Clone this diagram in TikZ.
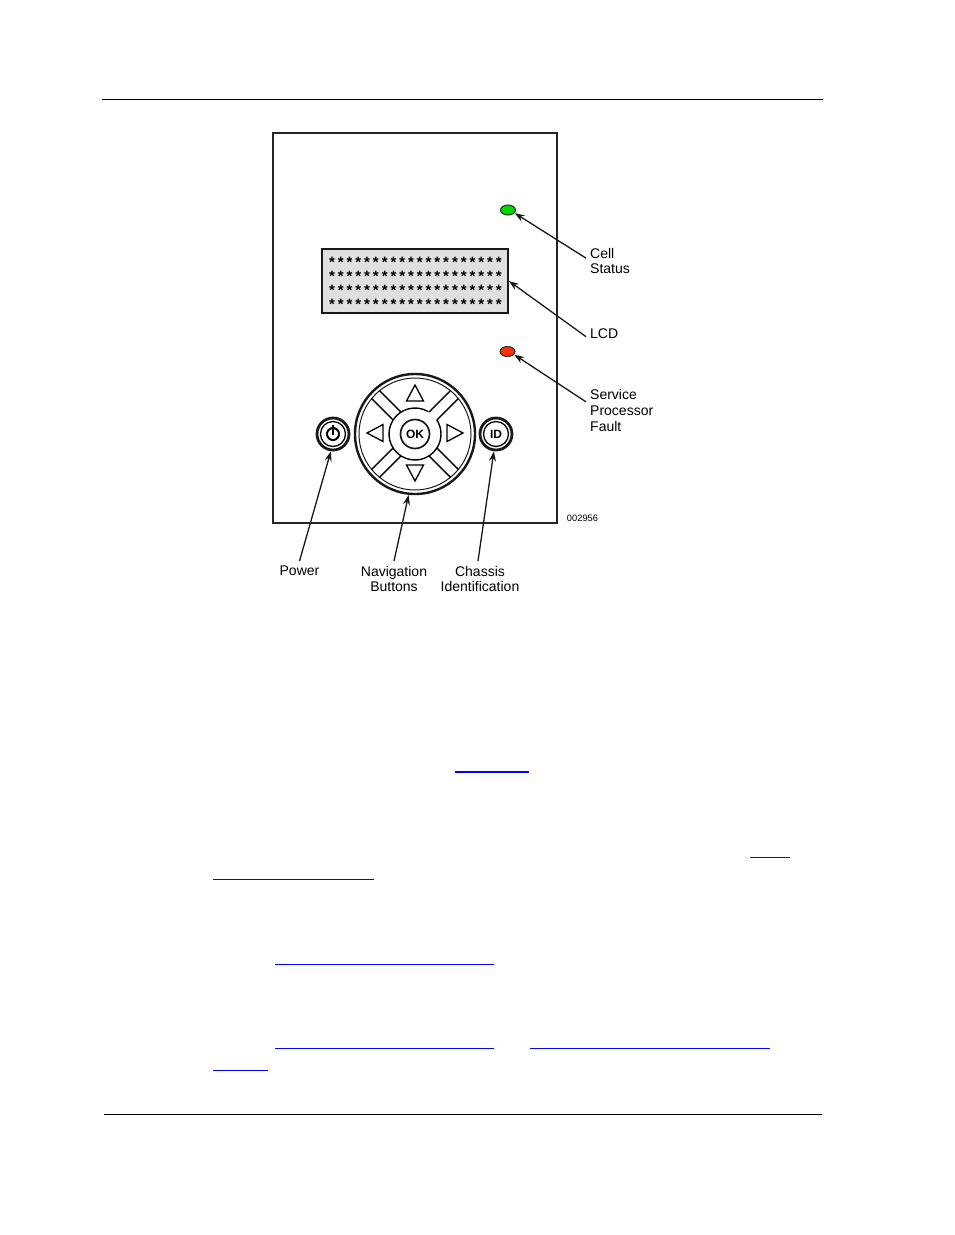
\documentclass[tikz,border=0pt]{standalone}
\usepackage{fontspec}
\setmainfont{Liberation Sans}
\tikzset{
  callout/.style={align=left,inner sep=0pt,anchor=north west},
  caption/.style={align=center,inner sep=0pt,anchor=north},
  led/.style={draw=black!80,line width=1.1pt,ellipse,inner sep=0pt,minimum width=15pt,minimum height=10pt},
  roundkey/.style={circle,draw=black!90,line width=2.8pt,inner sep=0pt,minimum size=32pt,font=\bfseries\fontsize{12}{12}\selectfont},
  hotlink/.style={draw=blue,line width=1pt},
  pointer/.style={-{Stealth[length=10pt,width=7pt]},line width=1.3pt,draw=black!90}
}
\usetikzlibrary{arrows.meta,shapes.geometric}
\begin{document}
\begin{tikzpicture}[font=\fontsize{14}{15.6}\selectfont,x=1pt,y=-1pt]

\useasboundingbox (0,0) rectangle (954,1235);

\draw (102,99) -- (823,99);
\draw (104,1114) -- (822,1114);

\node[draw=black!85,line width=1.3pt,minimum width=284pt,minimum height=390pt,inner sep=0pt] (panel) at (415,328) {};

\node[led,fill=green!85!black] (cellled) at (508,210) {};
\node[led,fill=red!65!orange] (faultled) at (507.5,351.5) {};

\node[draw=black!90,fill=black!12,line width=1.8pt,minimum width=186pt,minimum height=64pt,inner sep=0pt] (lcd) at (415,281) {};

\foreach \y in {262,276,290,304}{
\foreach \x in {0,...,19}{
\node[inner sep=0pt,font=\bfseries\fontsize{15}{15}\selectfont] (star\y-\x) at (332+\x*8.78,\y) {*};
}}

% navigation buttons
\node[circle,draw=black!90,line width=2.4pt,inner sep=0pt,minimum size=120pt] (nav) at (415,434) {};
\node[circle,draw=black!90,line width=1pt,inner sep=0pt,minimum size=112pt] (navinner) at (415,434) {};
\draw[line width=1.4pt] (415,434) ++(-59:26) arc (-59:-393:26);
\node[roundkey,line width=1.7pt,minimum size=29pt] (ok) at (415,434) {OK};

\foreach \a in {45,135,225,315}{
\begin{scope}[shift={(415,434)},rotate=\a]
\draw[line width=1.4pt] (25.5,5.5) -- (56,5.5);
\draw[line width=1.4pt] (25.5,-5.5) -- (56,-5.5);
\end{scope}}

\foreach \a in {0,90,180,270}{
\begin{scope}[shift={(415,433)},rotate=\a]
\draw[line width=1.3pt] (48,0) -- (32,8.5) -- (32,-8.5) -- cycle;
\end{scope}}

% power and id
\node[roundkey] (power) at (333,434) {};
\node[circle,draw,line width=1.3pt,minimum size=25pt,inner sep=0pt] (powerinner) at (333,434) {};
\draw[line width=2pt] (333,434) ++(-55:6) arc (-55:-485:6);
\draw[line width=2pt] (333,425) -- (333,435);

\node[roundkey] (id) at (496,434) {};
\node[circle,draw,line width=1.3pt,minimum size=25pt,inner sep=0pt,font=\bfseries\fontsize{12}{12}\selectfont] (idinner) at (496,434) {ID};

% labels
\node[callout] (celltext) at (590,248) {Cell\\Status};
\node[callout] (lcdtext) at (590,329) {LCD};
\node[callout] (faulttext) at (590,389.5) {Service\\Processor\\Fault};
\node[caption] (powertext) at (299.5,566) {Power};
\node[caption] (navtext) at (394,566) {Navigation\\Buttons};
\node[caption] (idtext) at (480,566) {Chassis\\Identification};
\node[inner sep=0pt,font=\fontsize{9.3}{10}\selectfont] (partno) at (582.5,518) {002956};

\draw[pointer] (celltext.west) ++(-4,-3) -- (cellled.-25);
\draw[pointer] (lcdtext.west) ++(-4,2.5) -- (lcd.east);
\draw[pointer] (faulttext.170) ++(-4,-3) -- (faultled.-25);
\draw[pointer] (powertext.north) ++(0,-5) -- (power.263);
\draw[pointer] (navtext.north) ++(0,-5) -- (nav.264);
\draw[pointer] (idtext.north) ++(-2,-5) -- (id.263);

% links
\draw[hotlink,line width=2pt] (455,772) -- (529,772);
\draw[hotlink] (750,857) -- (790,857);
\draw[hotlink] (213,879) -- (374,879);
\draw[hotlink] (275,964) -- (494,964);
\draw[hotlink] (275,1048) -- (494,1048);
\draw[hotlink] (530,1048) -- (770,1048);
\draw[hotlink] (213,1070) -- (268,1070);
\end{tikzpicture}
\end{document}
